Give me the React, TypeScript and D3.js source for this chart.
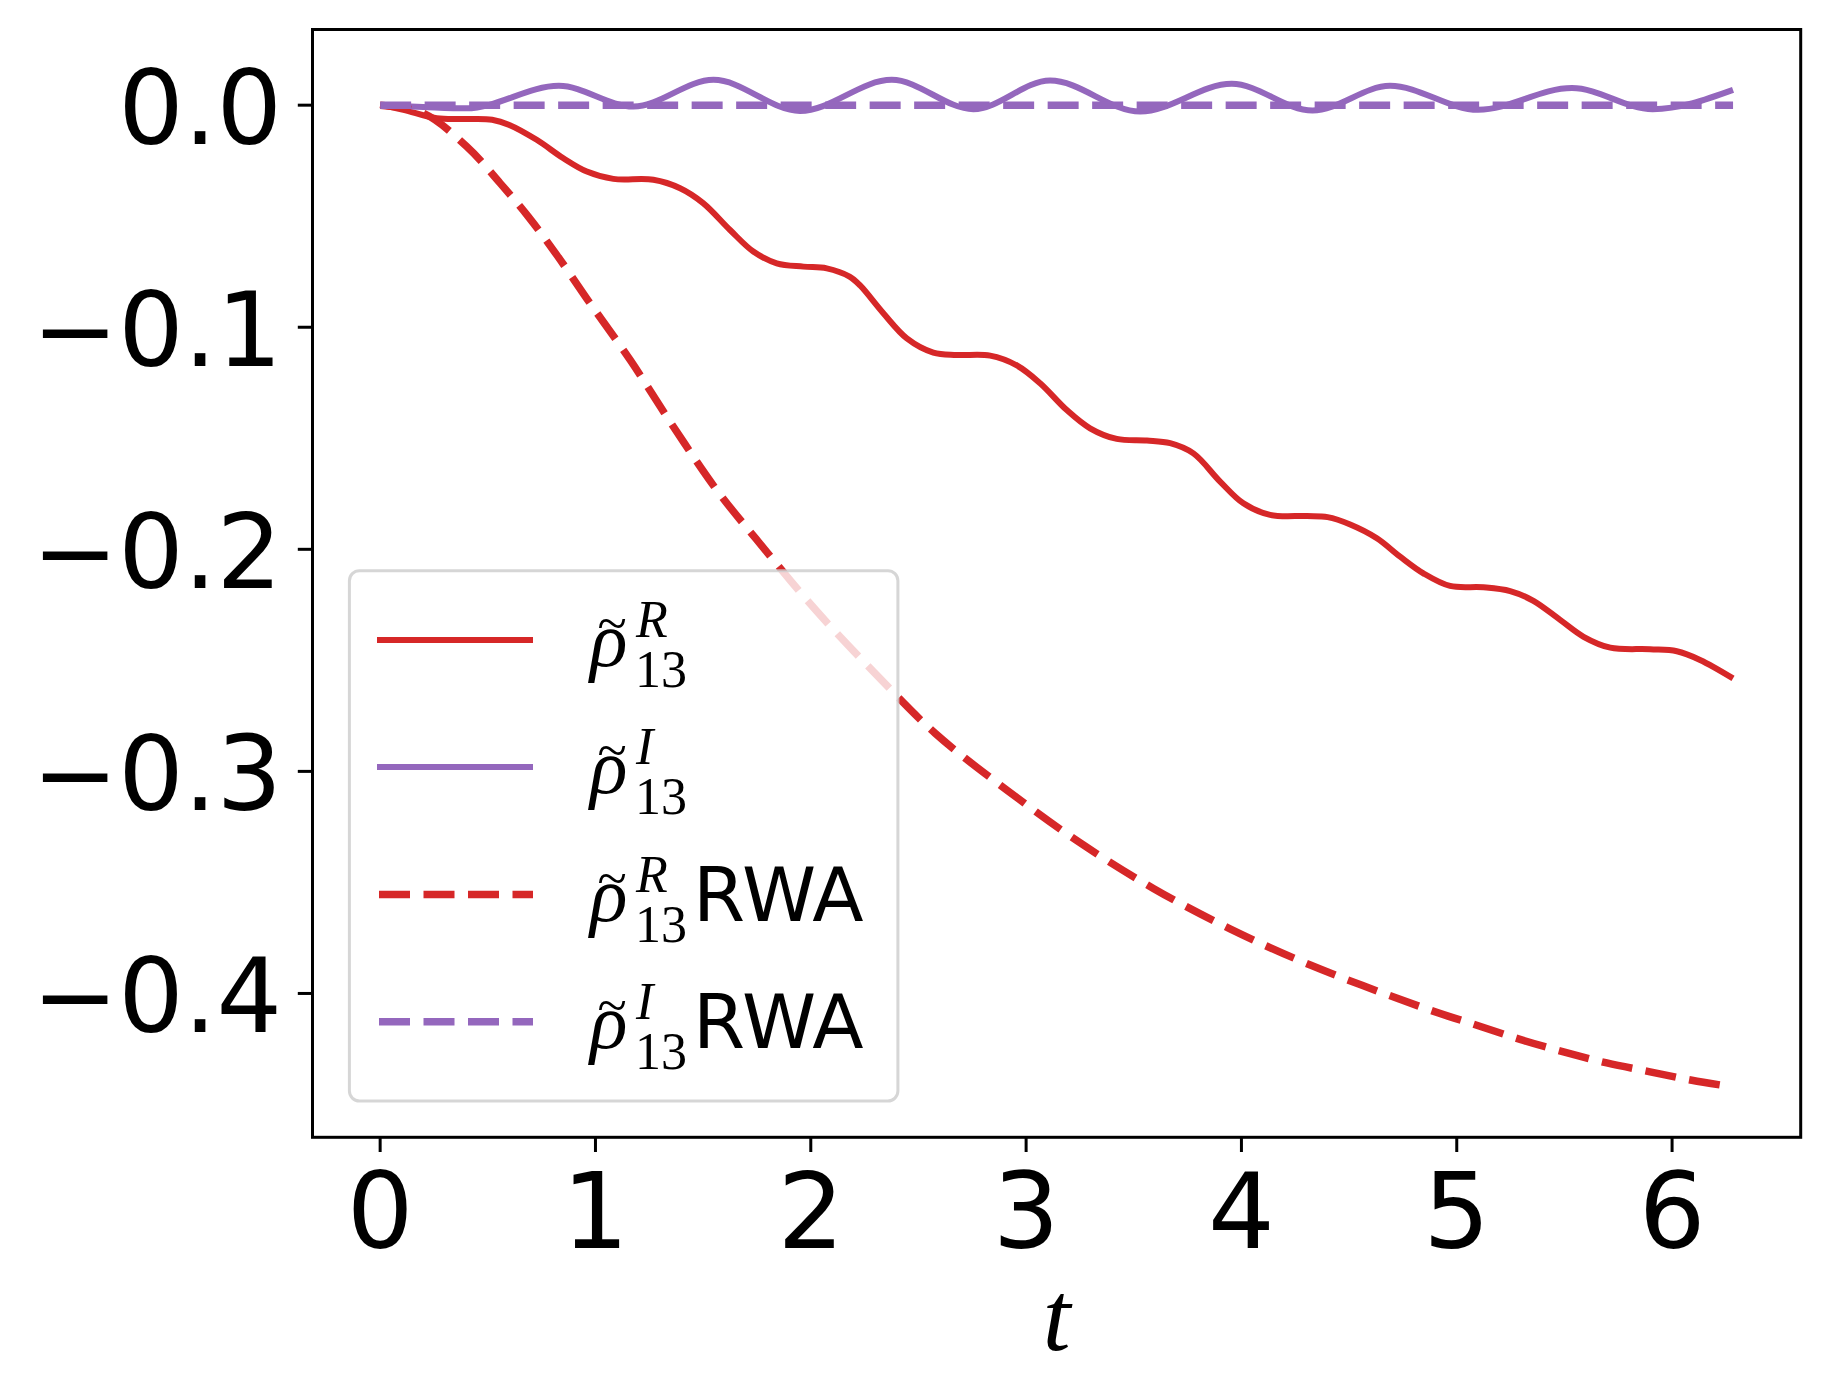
import React from 'react';
import * as d3 from 'd3';

// t values and curves
const TWO_PI = 2 * Math.PI;

const realT = [0, 0.108, 0.263, 0.42, 0.52, 0.6, 0.727, 0.851, 0.96, 1.083, 1.269, 1.393, 1.5, 1.625, 1.733, 1.842, 1.966, 2.074, 2.18, 2.229, 2.337, 2.446, 2.569, 2.678, 2.833, 2.957, 3.065, 3.189, 3.297, 3.421, 3.561, 3.669, 3.777, 3.901, 4.009, 4.133, 4.304, 4.4, 4.505, 4.629, 4.737, 4.845, 4.969, 5.124, 5.248, 5.356, 5.48, 5.589, 5.713, 5.898, 6.022, 6.13, 6.283];
const realV = [0, -0.0021, -0.0059, -0.0062, -0.0066, -0.0089, -0.0156, -0.0239, -0.0299, -0.0332, -0.0336, -0.0374, -0.0441, -0.0562, -0.0659, -0.0712, -0.0727, -0.0735, -0.0772, -0.0812, -0.0937, -0.105, -0.1114, -0.1125, -0.1128, -0.1172, -0.1252, -0.1373, -0.1455, -0.1503, -0.151, -0.1522, -0.1568, -0.1695, -0.1793, -0.1845, -0.185, -0.1855, -0.1888, -0.195, -0.2033, -0.2108, -0.2165, -0.2171, -0.2188, -0.2232, -0.2318, -0.2394, -0.2443, -0.245, -0.2459, -0.2498, -0.2581];

const imagT = [0, 0.2, 0.4, 0.83, 1.176, 1.548, 1.95, 2.376, 2.755, 3.111, 3.53, 3.955, 4.33, 4.69, 5.1, 5.535, 5.91, 6.283];
const imagV = [0, -0.0008, -0.0014, 0.0087, -0.0006, 0.0114, -0.0026, 0.0114, -0.0018, 0.0111, -0.0029, 0.0096, -0.0024, 0.0087, -0.0021, 0.0077, -0.0018, 0.0069];

const rwaRealT = [0, 0.2, 0.402, 0.557, 0.688, 0.82, 0.975, 1.161, 1.362, 1.563, 1.743, 2.027, 2.294, 2.578, 2.916, 3.236, 3.591, 3.947, 4.32, 4.876, 5.093, 5.294, 5.496, 5.697, 5.898, 6.092, 6.283];
const rwaRealV = [0, -0.0036, -0.0186, -0.0351, -0.0502, -0.0674, -0.0892, -0.1147, -0.1448, -0.1733, -0.195, -0.2278, -0.2554, -0.2829, -0.3088, -0.3312, -0.3527, -0.3709, -0.3872, -0.4075, -0.4143, -0.4207, -0.4263, -0.4313, -0.4353, -0.4391, -0.4421];

const rwaImagT = [0, TWO_PI];
const rwaImagV = [0, 0];

const xTicks = [0, 1, 2, 3, 4, 5, 6];
const yTicks = [0, -0.1, -0.2, -0.3, -0.4];

const RED = '#d62728';
const PURPLE = '#9467bd';

const series = [
  { t: realT, v: realV, color: RED, dashed: false, sup: 'R', rwa: false, curve: d3.curveCatmullRom },
  { t: imagT, v: imagV, color: PURPLE, dashed: false, sup: 'I', rwa: false, curve: d3.curveMonotoneX },
  { t: rwaRealT, v: rwaRealV, color: RED, dashed: true, sup: 'R', rwa: true, curve: d3.curveCatmullRom },
  { t: rwaImagT, v: rwaImagV, color: PURPLE, dashed: true, sup: 'I', rwa: true, curve: d3.curveLinear },
];

const W = 1830;
const H = 1396;
const left = 312.5, right = 1800.7, top = 29.5, bottom = 1137.3;

const App: React.FC = () => {
  const allV = series.flatMap(s => s.v);
  const vMin = d3.min(allV)!, vMax = d3.max(allV)!;
  const vPad = (vMax - vMin) * 0.05;
  const tPad = TWO_PI * 0.05;

  const x = d3.scaleLinear().domain([-tPad, TWO_PI + tPad]).range([left, right]);
  const y = d3.scaleLinear().domain([vMin - vPad, vMax + vPad]).range([bottom, top]);

  const fmt = (v: number) => (v < 0 ? '\u2212' : '') + Math.abs(v).toFixed(1);
  const tickFont = '"DejaVu Sans", sans-serif';
  const mathFont = '"Liberation Serif", "DejaVu Serif", serif';

  const legX = 349.4, legY = 570.7, legW = 548.5, legH = 530.3;
  const rowY = [640, 767, 894.6, 1021.8];

  return (
    <svg width={W} height={H} style={{ position: 'absolute', left: 0, top: 0, background: '#fff' }}>
      <rect x={0} y={0} width={W} height={H} fill="#fff" />
      <defs>
        <clipPath id="plot">
          <rect x={left} y={top} width={right - left} height={bottom - top} />
        </clipPath>
      </defs>

      <g clipPath="url(#plot)">
        {series.map((s, i) => {
          const line = d3.line<[number, number]>()
            .x(d => x(d[0]))
            .y(d => y(d[1]))
            .curve(s.curve);
          return (
            <path
              key={i}
              d={line(s.t.map((t, j) => [t, s.v[j]] as [number, number])) || ''}
              fill="none"
              stroke={s.color}
              strokeWidth={s.dashed ? 7.5 : 6}
              strokeDasharray={s.dashed ? '31 13.5' : undefined}
            />
          );
        })}
      </g>

      {/* axes frame */}
      <rect x={left} y={top} width={right - left} height={bottom - top} fill="none" stroke="#000" strokeWidth={3} />

      {/* y ticks */}
      {yTicks.map(v => (
        <g key={v}>
          <line x1={left - 14.7} x2={left} y1={y(v)} y2={y(v)} stroke="#000" strokeWidth={3} />
          <text x={282} y={y(v) + 39} textAnchor="end" fontSize={103} fontFamily={tickFont}>{fmt(v)}</text>
        </g>
      ))}

      {/* x ticks */}
      {xTicks.map(t => (
        <g key={t}>
          <line x1={x(t)} x2={x(t)} y1={bottom} y2={bottom + 14.7} stroke="#000" strokeWidth={3} />
          <text x={x(t)} y={1248} textAnchor="middle" fontSize={105} fontFamily={tickFont}>{t}</text>
        </g>
      ))}

      <text x={(left + right) / 2} y={1350} textAnchor="middle" fontSize={100} fontStyle="italic" fontFamily={mathFont}>t</text>

      {/* legend */}
      <rect x={legX} y={legY} width={legW} height={legH} rx={10} fill="#fff" fillOpacity={0.8} stroke="#cccccc" strokeOpacity={0.8} strokeWidth={3} />
      {series.map((s, i) => {
        const cy = rowY[i];
        return (
          <g key={i}>
            <line
              x1={s.dashed ? 379 : 377} x2={533} y1={cy} y2={cy}
              stroke={s.color}
              strokeWidth={s.dashed ? 7.5 : 6}
              strokeDasharray={s.dashed ? '31 13.5' : undefined}
            />
            <text x={590} y={cy + 26} fontSize={78} fontStyle="italic" fontFamily={mathFont}>ρ</text>
            <text x={612} y={cy + 2} textAnchor="middle" fontSize={54} fontFamily={mathFont}>~</text>
            <text x={636} y={cy - 3} fontSize={52} fontStyle="italic" fontFamily={mathFont}>{s.sup}</text>
            <text x={635} y={cy + 47} fontSize={52} fontFamily={mathFont}>13</text>
            {s.rwa && (
              <text x={693} y={cy + 26} fontSize={75} fontFamily={tickFont}>RWA</text>
            )}
          </g>
        );
      })}
    </svg>
  );
};

export default App;
